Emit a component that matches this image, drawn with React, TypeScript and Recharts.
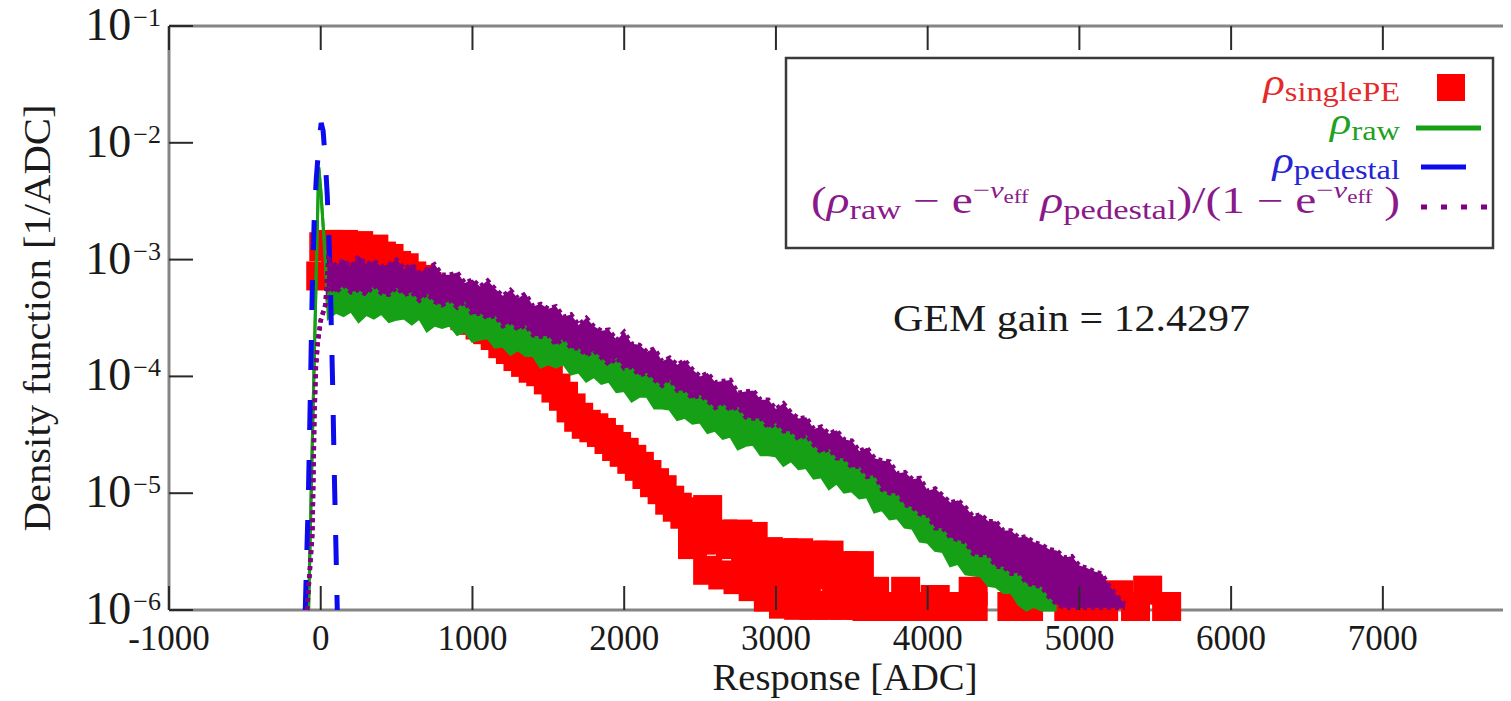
import React from "react";
import { ComposedChart, XAxis, YAxis, Area, Line, Scatter, ReferenceLine } from "recharts";

// all densities are stored as log10 values

// bin centres (ADC) of the two noisy bands
const bandAdc = [
  50, 100, 150, 200, 250, 300, 350, 400, 450, 500,
  550, 600, 650, 700, 750, 800, 850, 900, 950, 1000,
  1050, 1100, 1150, 1200, 1250, 1300, 1350, 1400, 1450, 1500,
  1550, 1600, 1650, 1700, 1750, 1800, 1850, 1900, 1950, 2000,
  2050, 2100, 2150, 2200, 2250, 2300, 2350, 2400, 2450, 2500,
  2550, 2600, 2650, 2700, 2750, 2800, 2850, 2900, 2950, 3000,
  3050, 3100, 3150, 3200, 3250, 3300, 3350, 3400, 3450, 3500,
  3550, 3600, 3650, 3700, 3750, 3800, 3850, 3900, 3950, 4000,
  4050, 4100, 4150, 4200, 4250, 4300, 4350, 4400, 4450, 4500,
  4550, 4600, 4650, 4700, 4750, 4800, 4850, 4900, 4950, 5000,
  5050, 5100, 5150, 5200, 5250, 5300,
];

// rho_raw : sharp pedestal peak, then a noisy band
const rawPeakAdc = [-80, -60, -40, -20, -13, 0, 20, 40];
const rawPeakExp = [-6.0, -4.82, -3.7, -2.58, -2.21, -2.4, -2.79, -3.23];
const rawHighExp = [
  -3.17, -3.18, -3.18, -3.19, -3.19, -3.19, -3.2, -3.2, -3.2, -3.2,
  -3.21, -3.22, -3.24, -3.25, -3.27, -3.29, -3.3, -3.32, -3.34, -3.37,
  -3.39, -3.41, -3.43, -3.46, -3.48, -3.5, -3.52, -3.55, -3.57, -3.6,
  -3.62, -3.64, -3.67, -3.69, -3.71, -3.74, -3.76, -3.79, -3.81, -3.84,
  -3.86, -3.89, -3.92, -3.94, -3.97, -4.0, -4.03, -4.06, -4.09, -4.12,
  -4.14, -4.16, -4.18, -4.2, -4.22, -4.25, -4.27, -4.3, -4.32, -4.35,
  -4.38, -4.41, -4.43, -4.47, -4.5, -4.54, -4.57, -4.61, -4.64, -4.68,
  -4.72, -4.77, -4.82, -4.86, -4.91, -4.95, -5.0, -5.05, -5.1, -5.15,
  -5.19, -5.24, -5.28, -5.33, -5.37, -5.41, -5.45, -5.49, -5.53, -5.56,
  -5.6, -5.63, -5.66, -5.71, -5.77, -5.83, -5.9,
];
const rawLowExp = [
  -3.5, -3.45, -3.48, -3.44, -3.53, -3.47, -3.5, -3.46, -3.53, -3.51,
  -3.5, -3.55, -3.5, -3.61, -3.56, -3.58, -3.56, -3.64, -3.61, -3.7,
  -3.68, -3.67, -3.75, -3.74, -3.81, -3.77, -3.82, -3.82, -3.92, -3.89,
  -3.92, -3.89, -3.98, -3.96, -4.04, -4.0, -4.06, -4.04, -4.13, -4.12,
  -4.21, -4.17, -4.17, -4.27, -4.27, -4.28, -4.37, -4.35, -4.4, -4.39,
  -4.48, -4.46, -4.53, -4.51, -4.62, -4.59, -4.58, -4.67, -4.67, -4.68,
  -4.76, -4.72, -4.79, -4.78, -4.87, -4.86, -4.96, -4.91, -4.99, -4.98,
  -5.04, -5.03, -5.16, -5.14, -5.22, -5.21, -5.29, -5.3, -5.41, -5.42,
  -5.49, -5.5, -5.62, -5.6, -5.69, -5.7, -5.71, -5.79, -5.8, -5.85,
  -5.85, -5.95, -6.0, -5.97, -6.0, -6.0, -6.0,
];

// corrected density (purple)
const corrRiseAdc = [-90, -55, -48, -42, -32, -20, 0, 30];
const corrRiseExp = [-6.0, -5.34, -4.82, -4.35, -3.92, -3.71, -3.52, -3.39];
const corrHighExp = [
  -2.99, -3.05, -3.0, -3.06, -2.97, -3.04, -3.01, -3.06, -3.04, -3.0,
  -3.08, -3.04, -3.11, -3.08, -3.04, -3.13, -3.13, -3.11, -3.2, -3.17,
  -3.23, -3.18, -3.25, -3.31, -3.26, -3.33, -3.29, -3.4, -3.38, -3.42,
  -3.4, -3.49, -3.47, -3.56, -3.5, -3.57, -3.61, -3.6, -3.69, -3.62,
  -3.72, -3.73, -3.79, -3.76, -3.87, -3.84, -3.9, -3.86, -3.94, -4.0,
  -3.97, -4.05, -4.04, -4.03, -4.14, -4.13, -4.12, -4.2, -4.2, -4.28,
  -4.23, -4.31, -4.36, -4.35, -4.45, -4.43, -4.49, -4.46, -4.54, -4.55,
  -4.64, -4.61, -4.7, -4.72, -4.73, -4.83, -4.82, -4.88, -4.87, -4.98,
  -4.96, -5.02, -5.08, -5.06, -5.12, -5.2, -5.18, -5.24, -5.24, -5.32,
  -5.32, -5.38, -5.37, -5.42, -5.44, -5.48, -5.49, -5.55, -5.54, -5.62,
  -5.64, -5.67, -5.69, -5.8, -5.88, -5.95,
];
const corrLowExp = [
  -3.23, -3.28, -3.22, -3.28, -3.26, -3.3, -3.22, -3.29, -3.3, -3.24,
  -3.3, -3.28, -3.35, -3.29, -3.36, -3.39, -3.35, -3.41, -3.36, -3.47,
  -3.46, -3.5, -3.48, -3.57, -3.54, -3.6, -3.56, -3.65, -3.66, -3.65,
  -3.73, -3.67, -3.76, -3.76, -3.82, -3.78, -3.84, -3.9, -3.84, -3.93,
  -3.92, -3.99, -3.97, -4.03, -4.08, -4.02, -4.12, -4.12, -4.19, -4.16,
  -4.21, -4.27, -4.23, -4.29, -4.26, -4.35, -4.36, -4.36, -4.44, -4.4,
  -4.47, -4.47, -4.54, -4.5, -4.59, -4.65, -4.62, -4.7, -4.7, -4.78,
  -4.77, -4.86, -4.84, -4.97, -5.0, -5.0, -5.1, -5.12, -5.18, -5.19,
  -5.3, -5.3, -5.38, -5.4, -5.42, -5.52, -5.53, -5.53, -5.63, -5.63,
  -5.69, -5.68, -5.77, -5.79, -5.8, -5.89, -5.95, -5.98, -5.98, -5.98,
  -5.98, -5.98, -5.98, -5.98, -5.98, -5.98,
];

// pedestal (blue dashed)
const pedestalAdc = [-102, -82, -69, -56, -43, -30, -10, 3, 16, 30, 43, 55, 65, 79, 89, 100, 109];
const pedestalExp = [-6.0, -5.06, -4.2, -3.26, -2.66, -2.32, -1.98, -1.83, -1.9, -2.15, -2.45, -2.85, -3.3, -4.1, -4.8, -5.45, -6.0];

// single PE (red squares)
const singleAdc = [
  0, 20, 50, 100, 150, 200, 250, 300, 350, 400,
  450, 500, 550, 600, 650, 700, 750, 800, 850, 900,
  950, 1000, 1050, 1100, 1150, 1200, 1250, 1300, 1350, 1400,
  1450, 1500, 1550, 1600, 1650, 1700, 1750, 1800, 1850, 1900,
  1950, 2000, 2050, 2100, 2150, 2200, 2250, 2300, 2350, 2400,
  2450, 2450, 2500, 2500, 2550, 2550, 2600, 2650, 2650, 2700,
  2750, 2750, 2800, 2850, 2850, 2900, 2950, 2950, 3000, 3050,
  3050, 3100, 3150, 3150, 3200, 3250, 3250, 3300, 3350, 3350,
  3400, 3450, 3450, 3500, 3550, 3550, 3600, 3650, 3700, 3750,
  3800, 3855, 3900, 3950, 4000, 4050, 4100, 4150, 4200, 4250,
  4300, 4300, 4555, 4665, 4930, 5030, 5160, 5260, 5370, 5450,
  5575,
];
const singleExp = [
  -3.14, -2.89, -2.87, -2.92, -2.87, -2.94, -2.88, -2.94, -2.91, -2.97,
  -2.99, -3.05, -3.07, -3.14, -3.17, -3.23, -3.26, -3.31, -3.37, -3.43,
  -3.48, -3.52, -3.56, -3.6, -3.65, -3.72, -3.77, -3.83, -3.88, -3.93,
  -3.96, -4.03, -4.1, -4.17, -4.27, -4.35, -4.41, -4.44, -4.48, -4.54,
  -4.6, -4.65, -4.71, -4.77, -4.84, -4.91, -4.97, -5.06, -5.12, -5.18,
  -5.23, -5.44, -5.16, -5.4, -5.14, -5.66, -5.4, -5.35, -5.7, -5.44,
  -5.35, -5.74, -5.53, -5.37, -5.8, -5.57, -5.5, -5.89, -5.7, -5.51,
  -5.95, -5.74, -5.51, -5.96, -5.74, -5.53, -5.96, -5.7, -5.53, -5.96,
  -5.78, -5.62, -5.96, -5.74, -5.62, -5.96, -5.97, -5.84, -5.97, -5.97,
  -5.97, -5.84, -5.97, -5.97, -5.97, -5.91, -5.97, -5.97, -5.97, -5.97,
  -5.84, -5.97, -5.97, -5.97, -5.97, -5.97, -5.97, -5.87, -5.97, -5.83,
  -5.97,
];

const xTicks = [-1000, 0, 1000, 2000, 3000, 4000, 5000, 6000, 7000];
const yTicks = [1e-6, 1e-5, 1e-4, 1e-3, 1e-2, 1e-1];

const rawData = [
  ...rawPeakAdc.map((adc, i) => ({ adc, range: [10 ** rawPeakExp[i], 10 ** rawPeakExp[i]] })),
  ...rawLowExp.map((lo, i) => ({ adc: bandAdc[i], range: [10 ** lo, 10 ** rawHighExp[i]] })),
];
const corrData = [
  ...corrRiseAdc.map((adc, i) => ({ adc, range: [10 ** corrRiseExp[i], 10 ** corrRiseExp[i]] })),
  ...corrLowExp.map((lo, i) => ({ adc: bandAdc[i], range: [10 ** lo, 10 ** corrHighExp[i]] })),
];
const pedestalData = pedestalAdc.map((adc, i) => ({ adc, v: 10 ** pedestalExp[i] }));
const singleData = singleAdc.map((adc, i) => ({ adc, v: 10 ** singleExp[i] }));

const FONT = '"Liberation Serif", "Times New Roman", serif';
const PLOT_TOP = 26;
const PLOT_RIGHT = 1527;
const FRAME = "#858585";
const TICK = "#2a2a2a";
const INK = "#1a1a1a";

const RED = "#ff0000";
const GREEN = "#16a016";
const BLUE = "#0b0bee";
const PURPLE = "#820082";

const XTick = (props: any) => {
  const { x, y, payload } = props;
  return (
    <g>
      <line x1={x} x2={x} y1={y} y2={y - 24} stroke={TICK} strokeWidth={2} />
      <line x1={x} x2={x} y1={PLOT_TOP} y2={PLOT_TOP + 24} stroke={TICK} strokeWidth={2} />
      <text x={x} y={y + 40} textAnchor="middle" fontFamily={FONT} fontSize={35} fill={INK}>
        {payload.value}
      </text>
    </g>
  );
};

const YTick = (props: any) => {
  const { x, y, payload } = props;
  const n = Math.round(Math.log10(payload.value));
  return (
    <g>
      <line x1={x} x2={x + 24} y1={y} y2={y} stroke={TICK} strokeWidth={2} />
      <line x1={PLOT_RIGHT - 24} x2={PLOT_RIGHT} y1={y} y2={y} stroke={TICK} strokeWidth={2} />
      <text x={x - 8} y={y + 14} textAnchor="end" fontFamily={FONT} fill={INK}>
        <tspan fontSize={46}>10</tspan>
        <tspan fontSize={26} dx={2} dy={-14}>{"\u2212" + Math.abs(n)}</tspan>
      </text>
    </g>
  );
};

const RedSquare = (props: any) => {
  const { cx, cy } = props;
  if (cx == null || cy == null) return null;
  return <rect x={cx - 14.5} y={cy - 14.5} width={29} height={29} fill={RED} />;
};

// one legend label: rho with an upright subscript, right-aligned at x = 1400
const RhoLabel = ({ y, sub, color }: { y: number; sub: string; color: string }) => (
  <g transform={`translate(1400,${y}) scale(1.2,1)`}>
    <text x={0} y={0} textAnchor="end" fill={color}>
      <tspan fontStyle="italic" fontSize={37}>ρ</tspan>
      <tspan fontSize={27} dy={6}>{sub}</tspan>
    </text>
  </g>
);

// legend, annotation and axis titles, in page pixels
const Overlay = () => (
  <svg width={1511} height={701} style={{ position: "absolute", left: 0, top: 0, pointerEvents: "none" }}>
    <g fontFamily={FONT} style={{ whiteSpace: "pre" }}>
      <rect x={786} y={58} width={707} height={190} fill="#fff" stroke="#3a3a3a" strokeWidth={2.5} />

      <RhoLabel y={95} sub="singlePE" color="#e42a2a" />
      <rect x={1437} y={74} width={28} height={27} fill={RED} />

      <RhoLabel y={134} sub="raw" color="#22a022" />
      <line x1={1416} x2={1481} y1={128} y2={128} stroke={GREEN} strokeWidth={5} />

      <RhoLabel y={173} sub="pedestal" color="#2424d4" />
      <line x1={1421} x2={1466} y1={167} y2={167} stroke={BLUE} strokeWidth={5} />

      <g transform="translate(1400,213) scale(1.28,1)">
        <text x={0} y={0} textAnchor="end" fill="#8a1a8a">
          <tspan fontSize={37}>(</tspan>
          <tspan fontStyle="italic" fontSize={37}>ρ</tspan>
          <tspan fontSize={27} dy={6}>raw</tspan>
          <tspan fontSize={37} dy={-6}>{" \u2212 e"}</tspan>
          <tspan fontSize={24} dy={-15}>{"\u2212"}</tspan>
          <tspan fontSize={24} fontStyle="italic">ν</tspan>
          <tspan fontSize={18} dy={5}>eff</tspan>
          <tspan fontStyle="italic" fontSize={37} dy={10}>{" ρ"}</tspan>
          <tspan fontSize={27} dy={6}>pedestal</tspan>
          <tspan fontSize={37} dy={-6}>{")/(1 \u2212 e"}</tspan>
          <tspan fontSize={24} dy={-15}>{"\u2212"}</tspan>
          <tspan fontSize={24} fontStyle="italic">ν</tspan>
          <tspan fontSize={18} dy={5}>eff</tspan>
          <tspan fontSize={37} dy={10}>{" )"}</tspan>
        </text>
      </g>
      <line x1={1421} x2={1493} y1={207} y2={207} stroke={PURPLE} strokeWidth={5} strokeDasharray="6 14" />

      <text x={893} y={331} fontSize={38} fill={INK} textLength={357} lengthAdjust="spacingAndGlyphs">
        GEM gain = 12.4297
      </text>

      <text x={845} y={690} textAnchor="middle" fontSize={37} fill={INK} textLength={265} lengthAdjust="spacingAndGlyphs">
        Response [ADC]
      </text>
      <text
        transform="translate(50,318) rotate(-90)"
        textAnchor="middle"
        fontSize={37}
        fill={INK}
        textLength={427}
        lengthAdjust="spacingAndGlyphs"
      >
        Density function [1/ADC]
      </text>
    </g>
  </svg>
);

export default function App() {
  return (
    <div
      style={{
        position: "relative",
        width: 1511,
        height: 701,
        margin: "-8px 0 0 -8px",
        overflow: "hidden",
        background: "#fff",
      }}
    >
      <ComposedChart width={1540} height={701} margin={{ top: 26, right: 13, bottom: 0, left: 1 }}>
        <XAxis
          dataKey="adc"
          type="number"
          domain={[-1000, 7950]}
          ticks={xTicks}
          interval={0}
          tickSize={0}
          tickMargin={0}
          height={91}
          tickLine={false}
          axisLine={{ stroke: FRAME, strokeWidth: 3 }}
          tick={<XTick />}
        />
        <YAxis
          type="number"
          scale="log"
          domain={[1e-6, 1e-1]}
          ticks={yTicks}
          interval={0}
          width={168}
          tickSize={0}
          tickMargin={0}
          tickLine={false}
          axisLine={{ stroke: FRAME, strokeWidth: 3 }}
          tick={<YTick />}
        />
        <ReferenceLine y={1e-1} stroke={FRAME} strokeWidth={3} />
        <Scatter data={singleData} dataKey="v" shape={<RedSquare />} isAnimationActive={false} zIndex={510} />
        <Area
          data={rawData}
          dataKey="range"
          type="linear"
          stroke={GREEN}
          strokeWidth={3}
          fill={GREEN}
          fillOpacity={1}
          dot={false}
          activeDot={false}
          isAnimationActive={false}
          zIndex={520}
        />
        <Line
          data={pedestalData}
          dataKey="v"
          type="linear"
          stroke={BLUE}
          strokeWidth={5}
          strokeDasharray="30 30"
          dot={false}
          activeDot={false}
          isAnimationActive={false}
          zIndex={530}
        />
        <Area
          data={corrData}
          dataKey="range"
          type="linear"
          stroke={PURPLE}
          strokeWidth={4.5}
          strokeDasharray="4 4"
          fill={PURPLE}
          fillOpacity={1}
          dot={false}
          activeDot={false}
          isAnimationActive={false}
          zIndex={540}
        />
      </ComposedChart>
      <Overlay />
    </div>
  );
}
